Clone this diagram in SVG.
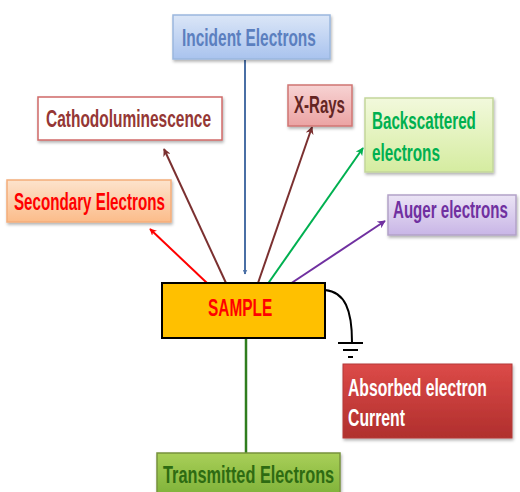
<svg xmlns="http://www.w3.org/2000/svg" width="520" height="492" viewBox="0 0 520 492">
<defs>
<linearGradient id="gBlue" x1="0" y1="0" x2="0" y2="1"><stop offset="0" stop-color="#dbe6f7"/><stop offset="1" stop-color="#a9c3ee"/></linearGradient>
<linearGradient id="gPink" x1="0" y1="0" x2="0" y2="1"><stop offset="0" stop-color="#f7d3d3"/><stop offset="1" stop-color="#eba3a3"/></linearGradient>
<linearGradient id="gGreenL" x1="0" y1="0" x2="0" y2="1"><stop offset="0" stop-color="#f2f9dc"/><stop offset="1" stop-color="#d5eca0"/></linearGradient>
<linearGradient id="gOrange" x1="0" y1="0" x2="0" y2="1"><stop offset="0" stop-color="#fde3cc"/><stop offset="1" stop-color="#fbbc8a"/></linearGradient>
<linearGradient id="gPurple" x1="0" y1="0" x2="0" y2="1"><stop offset="0" stop-color="#ebe4f5"/><stop offset="1" stop-color="#c8b5e6"/></linearGradient>
<linearGradient id="gRed" x1="0" y1="0" x2="0" y2="1"><stop offset="0" stop-color="#dc4a48"/><stop offset="1" stop-color="#b02f2d"/></linearGradient>
<linearGradient id="gGreen" x1="0" y1="0" x2="0" y2="1"><stop offset="0" stop-color="#a9cf58"/><stop offset="1" stop-color="#7fb23a"/></linearGradient>
<filter id="sh" x="-10%" y="-10%" width="130%" height="140%"><feDropShadow dx="1" dy="2" stdDeviation="1.5" flood-color="#000" flood-opacity="0.3"/></filter>
<marker id="aRed" viewBox="0 0 10 10" refX="9" refY="5" markerWidth="7" markerHeight="7" orient="auto" markerUnits="userSpaceOnUse"><path d="M0,0 L10,5 L0,10 L3,5 Z" fill="#ff0000"/></marker>
<marker id="aBrown" viewBox="0 0 10 10" refX="9" refY="5" markerWidth="8" markerHeight="8" orient="auto" markerUnits="userSpaceOnUse"><path d="M0,0 L10,5 L0,10 L3,5 Z" fill="#7b3030"/></marker>
<marker id="aGreen" viewBox="0 0 10 10" refX="9" refY="5" markerWidth="8" markerHeight="8" orient="auto" markerUnits="userSpaceOnUse"><path d="M0,0 L10,5 L0,10 L3,5 Z" fill="#00b050"/></marker>
<marker id="aPurple" viewBox="0 0 10 10" refX="9" refY="5" markerWidth="8" markerHeight="8" orient="auto" markerUnits="userSpaceOnUse"><path d="M0,0 L10,5 L0,10 L3,5 Z" fill="#7030a0"/></marker>
<marker id="aBlue" viewBox="0 0 10 10" refX="9" refY="5" markerWidth="5" markerHeight="5" orient="auto" markerUnits="userSpaceOnUse"><path d="M0,0 L10,5 L0,10 L3,5 Z" fill="#4a6fa5"/></marker>
</defs>
<style>
text{font-family:"Liberation Sans","Open Sans",sans-serif;font-size:23px;font-weight:bold;}
.box{filter:url(#sh);}
.ln{fill:none;stroke-width:2;}
</style>
<rect width="520" height="492" fill="#ffffff"/>
<g id="connectors">
<line x1="245" y1="60" x2="245" y2="274" stroke="#4a6fa5" stroke-width="2" marker-end="url(#aBlue)"/>
<line class="ln" x1="207" y1="283" x2="150" y2="229" stroke="#ff0000" marker-end="url(#aRed)"/>
<line class="ln" x1="226" y1="283" x2="164" y2="149" stroke="#7b3030" marker-end="url(#aBrown)"/>
<line class="ln" x1="258" y1="283" x2="312" y2="127" stroke="#7b3030" marker-end="url(#aBrown)"/>
<line class="ln" x1="267" y1="285" x2="363" y2="148" stroke="#00b050" marker-end="url(#aGreen)"/>
<line class="ln" x1="290" y1="284" x2="385" y2="221" stroke="#7030a0" marker-end="url(#aPurple)"/>
<line x1="246" y1="338" x2="246" y2="453" stroke="#2f7d1e" stroke-width="2.5"/>
<path class="ln" d="M325,290 C345,292 352,310 352,342" stroke="#000"/>
<g stroke="#000" stroke-width="2">
<line x1="338" y1="343" x2="363" y2="343"/>
<line x1="343" y1="350" x2="358" y2="350"/>
<line x1="348" y1="357" x2="353" y2="357"/>
</g>
</g>
<g id="incident">
<rect class="box" x="173" y="15" width="157" height="44" fill="url(#gBlue)" stroke="#9ab7de" stroke-width="1.5"/>
<text transform="translate(182,46) scale(0.672,1)" fill="#5b7fbf">Incident Electrons</text>
</g>
<g id="cathodo">
<rect class="box" x="38" y="97" width="184" height="43" fill="#ffffff" stroke="#d06a68" stroke-width="1.5"/>
<text transform="translate(46,127) scale(0.673,1)" fill="#953735">Cathodoluminescence</text>
</g>
<g id="xrays">
<rect class="box" x="288" y="85" width="64" height="41" fill="url(#gPink)" stroke="#d07573" stroke-width="1.5"/>
<text transform="translate(294,113) scale(0.654,1)" fill="#632523">X-Rays</text>
</g>
<g id="backscattered">
<rect class="box" x="365" y="98" width="128" height="74" fill="url(#gGreenL)" stroke="#c3d69b" stroke-width="1.5"/>
<text transform="translate(372,129) scale(0.661,1)" fill="#00b050">Backscattered</text>
<text transform="translate(372,161) scale(0.665,1)" fill="#00b050">electrons</text>
</g>
<g id="secondary">
<rect class="box" x="7" y="180" width="164" height="42" fill="url(#gOrange)" stroke="#f4ad7a" stroke-width="1.5"/>
<text transform="translate(14,210) scale(0.660,1)" fill="#ff0000">Secondary Electrons</text>
</g>
<g id="auger">
<rect class="box" x="388" y="195" width="128" height="40" fill="url(#gPurple)" stroke="#b3a2c7" stroke-width="1.5"/>
<text transform="translate(393,218) scale(0.656,1)" fill="#7030a0">Auger electrons</text>
</g>
<g id="sample">
<rect x="162" y="283" width="163" height="55" fill="#ffc000" stroke="#000" stroke-width="2"/>
<text transform="translate(208,316) scale(0.67,1)" font-size="25" fill="#ff0000">SAMPLE</text>
</g>
<g id="absorbed">
<rect class="box" x="343" y="364" width="169" height="74" fill="url(#gRed)" stroke="#b33a38" stroke-width="1"/>
<text transform="translate(348,396) scale(0.684,1)" fill="#ffffff">Absorbed electron</text>
<text transform="translate(348,426) scale(0.687,1)" fill="#ffffff">Current</text>
</g>
<g id="transmitted">
<rect class="box" x="157" y="453" width="183" height="42" fill="url(#gGreen)" stroke="#77933c" stroke-width="1.5"/>
<text transform="translate(163,483) scale(0.709,1)" fill="#2e6b12">Transmitted Electrons</text>
</g>
</svg>
